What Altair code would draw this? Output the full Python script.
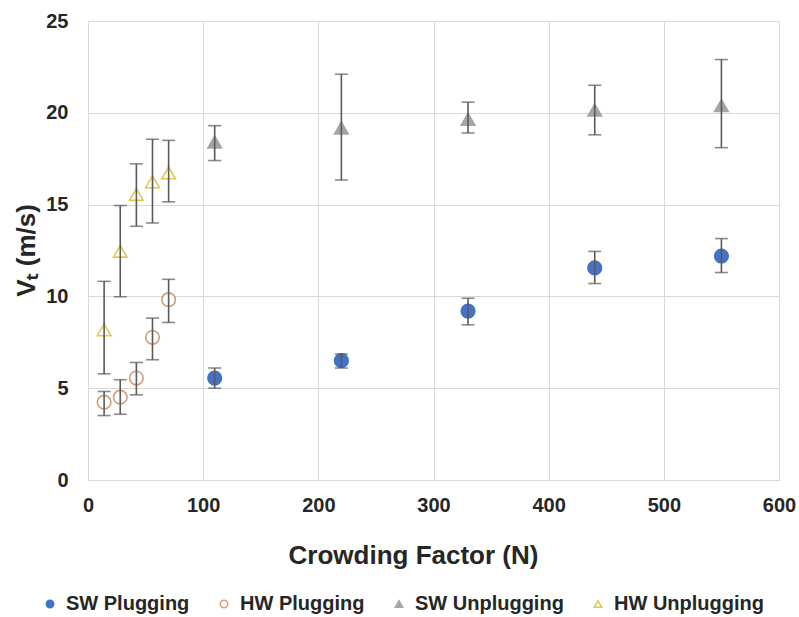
import altair as alt
import pandas as pd

series_names = ["SW Plugging", "HW Plugging", "SW Unplugging", "HW Unplugging"]

sw_plug_x = [110, 220, 330, 440, 550]
sw_plug_y = [5.55, 6.5, 9.2, 11.55, 12.2]
sw_plug_lo = [5.0, 6.1, 8.45, 10.7, 11.3]
sw_plug_hi = [6.1, 6.86, 9.9, 12.45, 13.15]

hw_plug_x = [14, 28, 42, 56, 70]
hw_plug_y = [4.24, 4.51, 5.55, 7.77, 9.82]
hw_plug_lo = [3.51, 3.58, 4.64, 6.55, 8.58]
hw_plug_hi = [4.82, 5.46, 6.4, 8.82, 10.93]

sw_unplug_x = [110, 220, 330, 440, 550]
sw_unplug_y = [18.4, 19.17, 19.65, 20.15, 20.4]
sw_unplug_lo = [17.4, 16.34, 18.9, 18.8, 18.1]
sw_unplug_hi = [19.3, 22.1, 20.58, 21.5, 22.9]

hw_unplug_x = [14, 28, 42, 56, 70]
hw_unplug_y = [8.18, 12.46, 15.55, 16.24, 16.73]
hw_unplug_lo = [5.78, 9.98, 13.82, 14.0, 15.15]
hw_unplug_hi = [10.82, 14.95, 17.22, 18.56, 18.5]

x_ticks = [0, 100, 200, 300, 400, 500, 600]
y_ticks = [0, 5, 10, 15, 20, 25]

stroke_colors = ["#4472C4", "#D39C7E", "#A5A5A5", "#E2C94E"]
fill_colors = ["#4472C4", "#FFFFFF", "#A5A5A5", "#FFFFFF"]
shapes = ["circle", "circle", "triangle-up", "triangle-up"]

rows = []
for name, xs, ys, los, his in [
    (series_names[0], sw_plug_x, sw_plug_y, sw_plug_lo, sw_plug_hi),
    (series_names[1], hw_plug_x, hw_plug_y, hw_plug_lo, hw_plug_hi),
    (series_names[2], sw_unplug_x, sw_unplug_y, sw_unplug_lo, sw_unplug_hi),
    (series_names[3], hw_unplug_x, hw_unplug_y, hw_unplug_lo, hw_unplug_hi),
]:
    for x, y, lo, hi in zip(xs, ys, los, his):
        rows.append({"series": name, "N": x, "V": y, "lo": lo, "hi": hi})
df = pd.DataFrame(rows)

xs = alt.Scale(domain=[0, 600], nice=False)
ys = alt.Scale(domain=[0, 25], nice=False)

leg = alt.Legend(
    title=None, orient="none", legendX=-48, legendY=573, direction="horizontal", columns=4,
    labelFont="Liberation Sans", labelFontWeight="bold", labelFontSize=20, labelColor="#262626",
    symbolSize=55, symbolStrokeWidth=1.5, columnPadding=24, labelOffset=6,
)

base = alt.Chart(df)

points = base.mark_point(opacity=1, strokeWidth=1.6, size=185).encode(
    x=alt.X("N:Q", scale=xs, title="Crowding Factor (N)",
            axis=alt.Axis(values=x_ticks, titleX=325, titleY=83, titleBaseline="alphabetic",
                          titleAlign="center", titleAnchor="start")),
    y=alt.Y("V:Q", scale=ys, title="Vₜ (m/s)",
            axis=alt.Axis(values=y_ticks, titleX=-54, titleY=229, titleBaseline="alphabetic",
                          titleAlign="center", titleAnchor="start", titleAngle=270)),
    stroke=alt.Stroke("series:N", scale=alt.Scale(domain=series_names, range=stroke_colors),
                      legend=leg),
    fill=alt.Fill("series:N", scale=alt.Scale(domain=series_names, range=fill_colors),
                  legend=leg),
    shape=alt.Shape("series:N", scale=alt.Scale(domain=series_names, range=shapes),
                    legend=leg),
)

err = base.mark_rule(color="#595959", strokeWidth=1.6).encode(
    x="N:Q", y="lo:Q", y2="hi:Q"
)
cap_lo = base.mark_tick(orient="horizontal", color="#595959", size=13, thickness=1.6).encode(
    x="N:Q", y="lo:Q"
)
cap_hi = base.mark_tick(orient="horizontal", color="#595959", size=13, thickness=1.6).encode(
    x="N:Q", y="hi:Q"
)

chart = alt.layer(points, err, cap_lo, cap_hi).properties(
    width=691, height=459,
    autosize=alt.AutoSizeParams(type="none"),
    padding={"left": 88, "top": 21, "right": 20, "bottom": 137},
).configure_view(stroke=None).configure_axis(
    grid=True, gridColor="#D9D9D9", gridWidth=1,
    domainColor="#D9D9D9", domainWidth=1, ticks=False, labelFlush=False,
    labelFont="Liberation Sans", labelFontWeight="bold", labelFontSize=20, labelColor="#262626",
    titleFont="Liberation Sans", titleFontWeight="bold", titleFontSize=26, titleColor="#262626",
).configure_axisY(
    labelPadding=20,
).configure_axisX(
    labelPadding=15,
)

chart.save("out.html", embed_options={"renderer": "svg", "actions": False})
